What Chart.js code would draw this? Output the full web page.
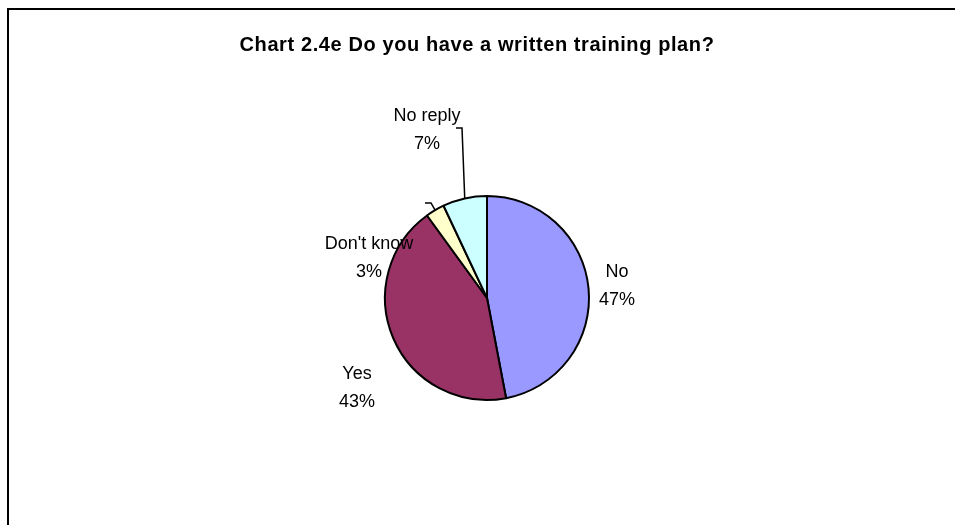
<!DOCTYPE html>
<html lang="en">
<head>
  <meta charset="UTF-8" />
  <title>Chart 2.4e</title>
  <style>
    html, body { margin: 0; padding: 0; background: #fff; }
    #wrap { width: 955px; height: 525px; }
  </style>
</head>
<body>
  <div id="wrap"><canvas id="pieChart" width="955" height="525"></canvas></div>

  <script src="https://cdn.jsdelivr.net/npm/chart.js"></script>
  <script>
    // answers, clockwise from 12 o'clock
    const categories = ['No', 'Yes', "Don't know", 'No reply'];
    const shares = [47, 43, 3, 7];
    const sliceColors = ['#9999FF', '#993366', '#FFFFCC', '#CCFFFF'];

    // where each label block sits, relative to the pie centre
    const labelSpots = [
      { dx: 130, dy: -12, leader: false },
      { dx: -130, dy: 90, leader: false },
      { dx: -118, dy: -40, leader: true, hook: [-56, -95] },
      { dx: -60, dy: -168, leader: true, hook: [-25, -170] }
    ];

    const font = '"Liberation Sans", Arial, sans-serif';

    const framePlugin = {
      id: 'frame',
      beforeDraw(chart) {
        const c = chart.ctx;
        c.save();
        c.fillStyle = '#fff';
        c.fillRect(0, 0, chart.width, chart.height);
        c.strokeStyle = '#000';
        c.lineWidth = 2;
        c.beginPath();
        c.moveTo(8, chart.height + 5);
        c.lineTo(8, 9);
        c.lineTo(chart.width + 5, 9);
        c.stroke();
        c.fillStyle = '#000';
        c.font = 'bold 20px ' + font;
        c.letterSpacing = '0.6px';
        c.textAlign = 'center';
        c.textBaseline = 'middle';
        c.fillText('Chart 2.4e Do you have a written training plan?', 477, 45);
        c.restore();
      }
    };

    const labelPlugin = {
      id: 'sliceLabels',
      afterDatasetsDraw(chart) {
        const c = chart.ctx;
        const meta = chart.getDatasetMeta(0);
        c.save();
        c.font = '18px ' + font;
        c.fillStyle = '#000';
        c.strokeStyle = '#000';
        c.lineWidth = 1.5;
        c.textAlign = 'center';
        c.textBaseline = 'middle';
        meta.data.forEach((arc, i) => {
          const cx = arc.x, cy = arc.y;
          const spot = labelSpots[i];
          const lx = cx + spot.dx, ly = cy + spot.dy;
          c.fillText(categories[i], lx, ly - 14);
          c.fillText(shares[i] + '%', lx, ly + 14);
          if (spot.leader) {
            const mid = (arc.startAngle + arc.endAngle) / 2;
            const ex = cx + Math.cos(mid) * arc.outerRadius;
            const ey = cy + Math.sin(mid) * arc.outerRadius;
            const hx = cx + spot.hook[0], hy = cy + spot.hook[1];
            c.beginPath();
            c.moveTo(hx - 6, hy);
            c.lineTo(hx, hy);
            c.lineTo(ex, ey);
            c.stroke();
          }
        });
        c.restore();
      }
    };

    new Chart(document.getElementById('pieChart'), {
      type: 'pie',
      data: {
        labels: categories,
        datasets: [{
          data: shares,
          backgroundColor: sliceColors,
          borderColor: '#000',
          borderWidth: 2
        }]
      },
      options: {
        responsive: false,
        animation: false,
        layout: { padding: { left: 300, right: 281, top: 195, bottom: 124 } },
        plugins: {
          legend: { display: false },
          title: { display: false },
          tooltip: { enabled: false }
        }
      },
      plugins: [framePlugin, labelPlugin]
    });
  </script>
</body>
</html>
